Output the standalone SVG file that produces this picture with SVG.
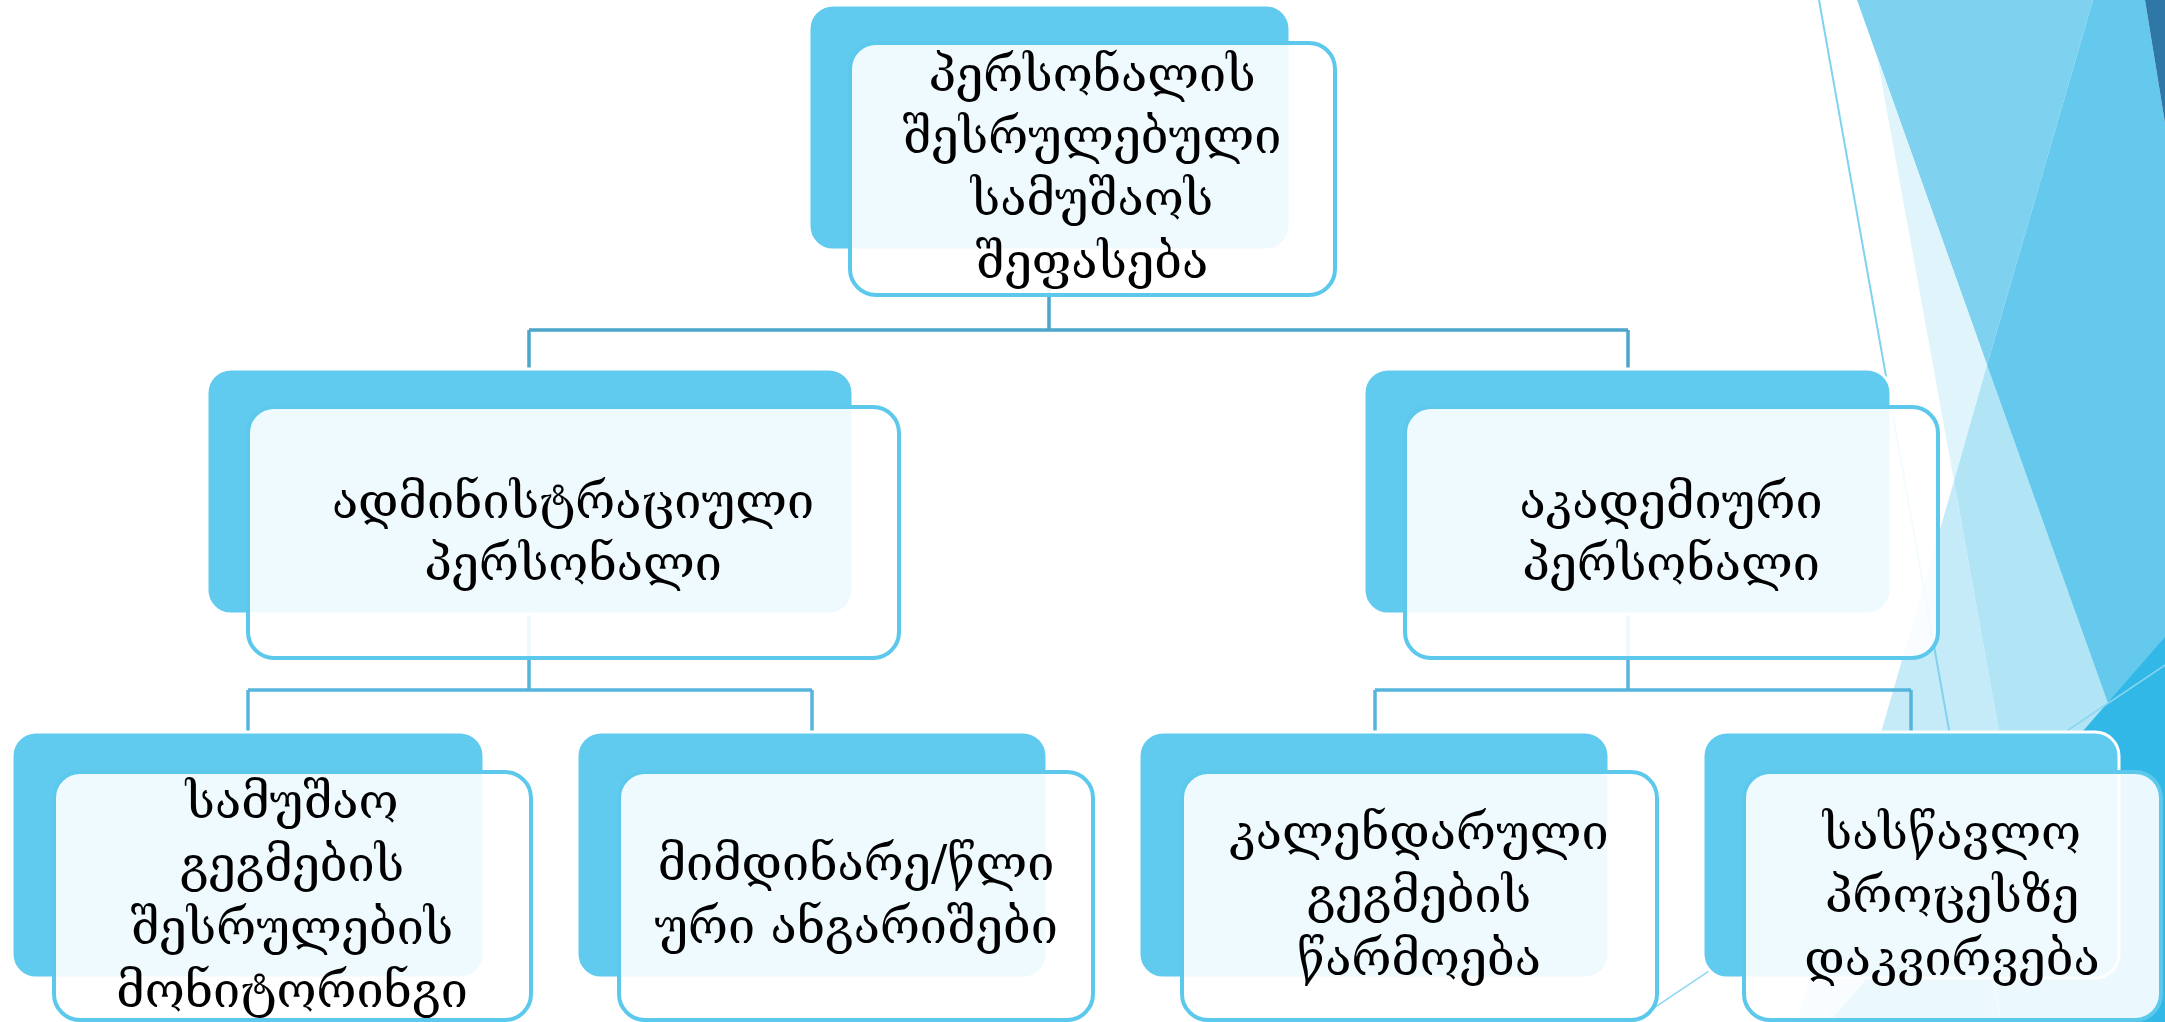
<svg xmlns="http://www.w3.org/2000/svg" width="2165" height="1022" viewBox="0 0 2165 1022">
<style>
.back{fill:#60CBEF;stroke:#FFFFFF;stroke-width:3}
.front{fill:#FFFFFF;fill-opacity:0.9;stroke:#5BC8EC;stroke-width:4}
.t{font-family:"DejaVu Serif",serif;font-size:48.5px;fill:#000000;text-anchor:middle}
.c1{fill:none;stroke:#4BA6CA;stroke-width:3.5}
.c2{fill:none;stroke:#55B5DC;stroke-width:3.5}
</style>
<rect x="0" y="0" width="2165" height="1022" fill="#FFFFFF"/>
<g id="background">
<polygon points="1857,0 2093,0 1987,365" fill="#7FD2EF"/>
<polygon points="1877,56 1987,365 1954,481" fill="#E0F4FB"/>
<polygon points="1954,481 2051,1022 1797,1022" fill="#C6EBF8"/>
<polygon points="1987,365 1954,481 2051,1022 2165,1022 2165,863" fill="#B1E5F6"/>
<polygon points="2093,0 2145,0 2165,123 2165,863 1987,365" fill="#65C9EE"/>
<polygon points="2145,0 2165,0 2165,123" fill="#2F77A6"/>
<polygon points="2165,637 2165,1022 1829,1022" fill="#32B8E7"/>
<line x1="1819" y1="0" x2="2001" y2="1022" stroke="#7FD3EE" stroke-width="2"/>
<line x1="1633" y1="1022" x2="2165" y2="665" stroke="#8AD6F0" stroke-width="1.5"/>
</g>
<g id="connectors">
<path class="c1" d="M1049,250 V330 M529,330 H1628 M529,330 V370 M1628,330 V370"/>
<path class="c2" d="M529,614 V690 M248,690 H812 M248,690 V732 M812,690 V732"/>
<path class="c2" d="M1628,614 V690 M1375,690 H1911 M1375,690 V732 M1911,690 V732"/>
</g>
<g id="node-top">
<rect class="back" x="809" y="5" width="481" height="245" rx="24"/>
<rect class="front" x="850" y="43" width="485" height="252" rx="26"/>
<text class="t" x="1092" y="91">პერსონალის</text>
<text class="t" x="1092" y="153">შესრულებული</text>
<text class="t" x="1092" y="215">სამუშაოს</text>
<text class="t" x="1092" y="278">შეფასება</text>
</g>
<g id="node-admin">
<rect class="back" x="207" y="369" width="646" height="245" rx="24"/>
<rect class="front" x="248" y="407" width="651" height="251" rx="26"/>
<text class="t" x="573" y="518">ადმინისტრაციული</text>
<text class="t" x="573" y="580">პერსონალი</text>
</g>
<g id="node-academic">
<rect class="back" x="1364" y="369" width="527" height="245" rx="24"/>
<rect class="front" x="1405" y="407" width="533" height="251" rx="26"/>
<text class="t" x="1671" y="518">აკადემიური</text>
<text class="t" x="1671" y="580">პერსონალი</text>
</g>
<g id="node-monitoring">
<rect class="back" x="12" y="732" width="472" height="246" rx="24"/>
<rect class="front" x="54" y="772" width="477" height="248" rx="26"/>
<text class="t" x="292" y="818">სამუშაო</text>
<text class="t" x="292" y="881">გეგმების</text>
<text class="t" x="292" y="944">შესრულების</text>
<text class="t" x="292" y="1007">მონიტორინგი</text>
</g>
<g id="node-reports">
<rect class="back" x="577" y="732" width="470" height="246" rx="24"/>
<rect class="front" x="619" y="772" width="474" height="248" rx="26"/>
<text class="t" x="856" y="880">მიმდინარე/წლი</text>
<text class="t" x="856" y="943">ური ანგარიშები</text>
</g>
<g id="node-calendar">
<rect class="back" x="1139" y="732" width="470" height="246" rx="24"/>
<rect class="front" x="1182" y="772" width="475" height="248" rx="26"/>
<text class="t" x="1419" y="849">კალენდარული</text>
<text class="t" x="1419" y="912">გეგმების</text>
<text class="t" x="1419" y="975">წარმოება</text>
</g>
<g id="node-observation">
<rect class="back" x="1703" y="732" width="416" height="246" rx="24"/>
<rect class="front" x="1744" y="772" width="417" height="248" rx="26"/>
<text class="t" x="1952" y="849">სასწავლო</text>
<text class="t" x="1952" y="912">პროცესზე</text>
<text class="t" x="1952" y="975">დაკვირვება</text>
</g>
</svg>
